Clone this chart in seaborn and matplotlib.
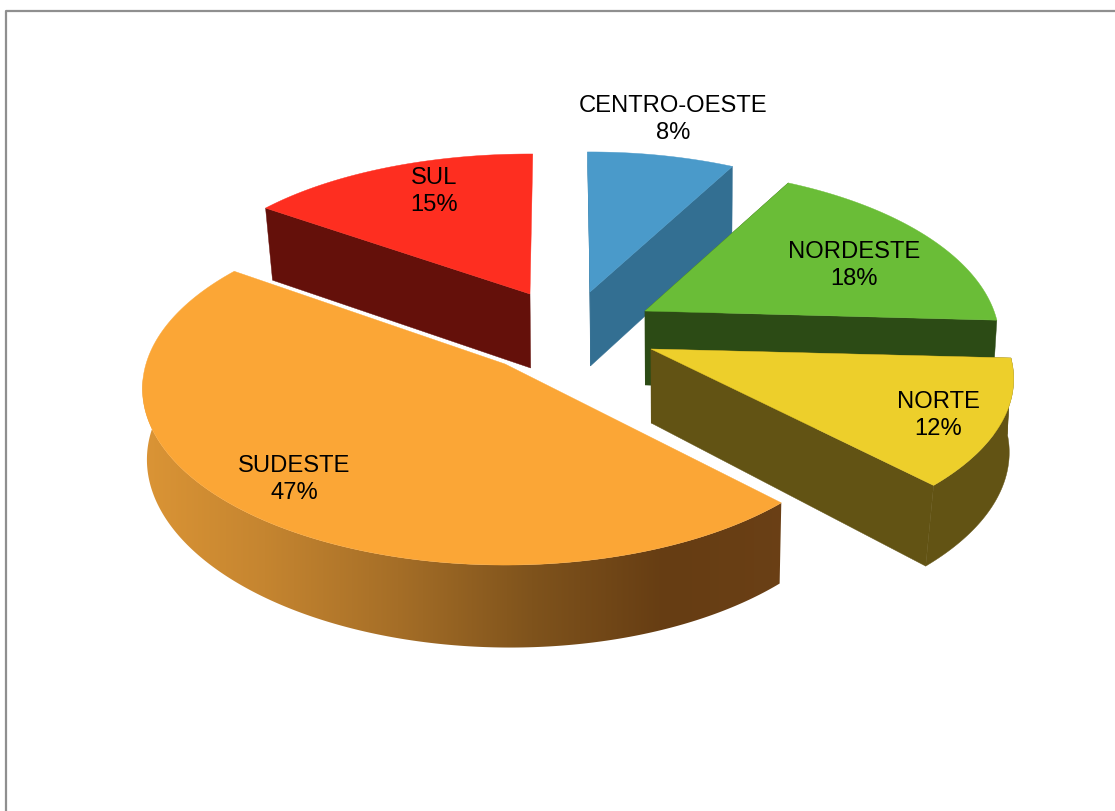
import numpy as np
import matplotlib
matplotlib.use("Agg")
import matplotlib.pyplot as plt
from matplotlib.patches import Polygon
import seaborn as sns

# data
regions = ["CENTRO-OESTE", "NORDESTE", "NORTE", "SUDESTE", "SUL"]
shares = [8, 18, 12, 47, 15]

# styles / layout
top_colors = ["#4A9ACA", "#6ABD37", "#EDCF2B", "#FBA636", "#FE2E20"]
wall_colors = ["#336F92", "#2C4B15", "#625314", None, "#64100A"]
apex = [(590, 293), (645, 312), (651, 350), (505, 365), (530, 295)]
radius_x = [347, 349, 357, 359, 345]
radius_y = [164.7, 168, 164.7, 173, 151.5]
persp = [0.176, 0.176, 0.176, 0.1395, 0.082]
rotate_deg = [0.5, 0.5, 0.5, 0.6, -0.5]
converge = [0.016, 0.016, 0.01, 0.0054, 0.016]
front_gain = [0, 0, 0, 3.9, 0]
lean = [0, 0, 7.7, 0, 0]
start_cut = [True, True, True, False, True]
end_cut = [True, True, True, False, False]
outer_wall = [False, False, True, True, False]
label_xy = [(673, 119.5), (854, 265.5), (938, 415.5), (294, 479.5), (434, 191.5)]
draw_order = [0, 4, 1, 2, 3]
VPX = 700                     # convergence point of the vertical edges

sns.set_theme(style="white")
plt.rcParams["font.family"] = ["Liberation Sans", "DejaVu Sans"]

fig, ax = plt.subplots(figsize=(11.15, 8.12), dpi=100)
ax.set_position([0, 0, 1, 1])
ax.axis("off")

# frame of the chart area
ax.plot([6, 6, 1115], [812, 11.5, 11.5], color="#8F8F8F", lw=1.6, solid_capstyle="butt")


def top_pt(theta, i):
    u, v = np.cos(theta), np.sin(theta)
    w = 1 + persp[i] * v
    return apex[i][0] + radius_x[i] * u / w, apex[i][1] - radius_y[i] * v / w


def bottom_pt(theta, i):
    x, y = top_pt(theta, i)
    v = np.sin(theta)
    return x + (VPX - x) * converge[i] * (1 - front_gain[i] * v) + lean[i] * v, y + 76 - 6.5 * v


grad = sns.blend_palette(["#DD9636", "#C58530", "#A56E27", "#7F531C", "#663D13", "#6B4016"], 256)

fractions = np.array(shares) / sum(shares)
ends0 = np.pi / 2 - 2 * np.pi * np.cumsum(fractions)
starts0 = ends0 + 2 * np.pi * fractions

z = 2
for i in draw_order:
    a = apex[i]
    d = np.radians(rotate_deg[i])
    s, e = starts0[i] + d, ends0[i] + d
    th = np.linspace(s, e, 200)
    tx, ty = top_pt(th, i)
    ab = (a[0] + (VPX - a[0]) * 0.004, a[1] + 74)
    wall_th = np.linspace(s, max(e, -np.pi - 0.09), 200)
    wx, wy = top_pt(wall_th, i)
    bx, by = bottom_pt(wall_th, i)
    wall = np.c_[np.r_[wx, bx[::-1]], np.r_[wy, by[::-1]]]
    if wall_colors[i] is not None:
        c = wall_colors[i]
        cuts = ([s] if start_cut[i] else []) + ([e] if end_cut[i] else [])
        for t in cuts:
            p, q = top_pt(t, i), bottom_pt(t, i)
            ax.fill([a[0], p[0], q[0], ab[0]], [a[1], p[1], q[1], ab[1]], color=c, lw=0.3, zorder=z)
        if outer_wall[i]:
            ax.fill(wall[:, 0], wall[:, 1], color=c, lw=0.3, zorder=z)
    else:
        ramp = np.array(grad)[None, :, :]
        im = ax.imshow(ramp, extent=(130, 800, 660, 380), aspect="auto", zorder=z,
                       interpolation="bilinear")
        clip = Polygon(wall, closed=True, transform=ax.transData,
                       facecolor="none", edgecolor="none")
        ax.add_patch(clip)
        im.set_clip_path(clip)
    ax.fill(np.r_[a[0], tx], np.r_[a[1], ty], color=top_colors[i], lw=0.3, zorder=z + 1)
    z += 2

for name, sh, (x, y) in zip(regions, shares, label_xy):
    ax.text(x, y, f"{name}\n{sh}%", ha="center", va="center", fontsize=17.1,
            color="black", linespacing=1.31, zorder=50)

ax.set_xlim(0, 1115)
ax.set_ylim(812, 0)

fig.savefig("out.png", dpi=100, facecolor="white")
